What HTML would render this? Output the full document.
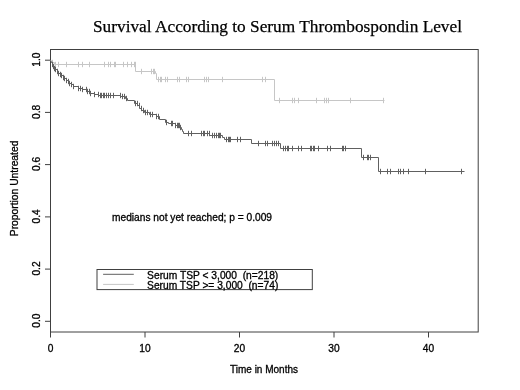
<!DOCTYPE html>
<html><head><meta charset="utf-8"><title>Survival According to Serum Thrombospondin Level</title>
<style>html,body{margin:0;padding:0;background:#fff;overflow:hidden}svg{display:block;filter:grayscale(1)}</style></head>
<body>
<svg width="520" height="390" viewBox="0 0 520 390">
<rect width="520" height="390" fill="#fff"/>
<text x="93" y="32" font-family="'Liberation Serif',serif" font-size="17.6" textLength="369" lengthAdjust="spacingAndGlyphs" fill="#000" stroke="#000" stroke-width="0.25">Survival According to Serum Thrombospondin Level</text>
<rect x="50.5" y="49.5" width="427.7" height="282.5" fill="none" stroke="#404040" stroke-width="1"/>
<path d="M50.5,332.0v5.5M145.0,332.0v5.5M239.5,332.0v5.5M334.0,332.0v5.5M428.5,332.0v5.5M50.5,321.3h-5.5M50.5,269.1h-5.5M50.5,216.9h-5.5M50.5,164.6h-5.5M50.5,112.4h-5.5M50.5,60.2h-5.5" stroke="#404040" stroke-width="1" fill="none"/>
<text x="50.5" y="352" text-anchor="middle" font-family="'Liberation Sans',sans-serif" font-size="10.2" fill="#000" stroke="#000" stroke-width="0.3">0</text>
<text x="145.0" y="352" text-anchor="middle" font-family="'Liberation Sans',sans-serif" font-size="10.2" fill="#000" stroke="#000" stroke-width="0.3">10</text>
<text x="239.5" y="352" text-anchor="middle" font-family="'Liberation Sans',sans-serif" font-size="10.2" fill="#000" stroke="#000" stroke-width="0.3">20</text>
<text x="334.0" y="352" text-anchor="middle" font-family="'Liberation Sans',sans-serif" font-size="10.2" fill="#000" stroke="#000" stroke-width="0.3">30</text>
<text x="428.5" y="352" text-anchor="middle" font-family="'Liberation Sans',sans-serif" font-size="10.2" fill="#000" stroke="#000" stroke-width="0.3">40</text>
<text transform="translate(39.7,320.7) rotate(-90)" text-anchor="middle" font-family="'Liberation Sans',sans-serif" font-size="10.2" fill="#000" stroke="#000" stroke-width="0.3">0.0</text>
<text transform="translate(39.7,268.5) rotate(-90)" text-anchor="middle" font-family="'Liberation Sans',sans-serif" font-size="10.2" fill="#000" stroke="#000" stroke-width="0.3">0.2</text>
<text transform="translate(39.7,216.3) rotate(-90)" text-anchor="middle" font-family="'Liberation Sans',sans-serif" font-size="10.2" fill="#000" stroke="#000" stroke-width="0.3">0.4</text>
<text transform="translate(39.7,164.0) rotate(-90)" text-anchor="middle" font-family="'Liberation Sans',sans-serif" font-size="10.2" fill="#000" stroke="#000" stroke-width="0.3">0.6</text>
<text transform="translate(39.7,111.8) rotate(-90)" text-anchor="middle" font-family="'Liberation Sans',sans-serif" font-size="10.2" fill="#000" stroke="#000" stroke-width="0.3">0.8</text>
<text transform="translate(39.7,59.6) rotate(-90)" text-anchor="middle" font-family="'Liberation Sans',sans-serif" font-size="10.2" fill="#000" stroke="#000" stroke-width="0.3">1.0</text>
<text x="264" y="372.5" text-anchor="middle" textLength="68" lengthAdjust="spacingAndGlyphs" font-family="'Liberation Sans',sans-serif" font-size="10.2" fill="#000" stroke="#000" stroke-width="0.3">Time in Months</text>
<text transform="translate(18.4,188.4) rotate(-90)" text-anchor="middle" textLength="95.6" lengthAdjust="spacingAndGlyphs" font-family="'Liberation Sans',sans-serif" font-size="10.2" fill="#000" stroke="#000" stroke-width="0.3">Proportion Untreated</text>
<path d="M50.5,60.5 L51.5,60.5 L51.5,62.5 L54.5,62.5 L54.5,64.5 L135.5,64.5 L135.5,71.5 L155.5,71.5 L155.5,73.5 L156.5,73.5 L156.5,79.5 L274.5,79.5 L274.5,100.5 L384.5,100.5M52.5,59.8v5.4M55.5,61.8v5.4M58.5,61.8v5.4M66.5,61.8v5.4M78.5,61.8v5.4M82.5,61.8v5.4M89.5,61.8v5.4M104.5,61.8v5.4M108.5,61.8v5.4M110.5,61.8v5.4M114.5,61.8v5.4M115.5,61.8v5.4M123.5,61.8v5.4M127.5,61.8v5.4M131.5,61.8v5.4M134.5,61.8v5.4M135.5,61.8v5.4M141.5,68.8v5.4M151.5,68.8v5.4M153.5,68.8v5.4M154.5,68.8v5.4M158.5,76.8v5.4M160.5,76.8v5.4M161.5,76.8v5.4M165.5,76.8v5.4M167.5,76.8v5.4M177.5,76.8v5.4M179.5,76.8v5.4M186.5,76.8v5.4M188.5,76.8v5.4M204.5,76.8v5.4M206.5,76.8v5.4M208.5,76.8v5.4M222.5,76.8v5.4M262.5,76.8v5.4M265.5,76.8v5.4M279.5,97.8v5.4M292.5,97.8v5.4M294.5,97.8v5.4M298.5,97.8v5.4M316.5,97.8v5.4M324.5,97.8v5.4M326.5,97.8v5.4M328.5,97.8v5.4M350.5,97.8v5.4M383.5,97.8v5.4" stroke="#c6c6c6" stroke-width="1" fill="none"/>
<path d="M50.5,60.5 L51.5,62.5 L52.5,62.5 L52.5,64.5 L53.5,64.5 L53.5,66.5 L54.5,66.5 L54.5,68.5 L55.5,68.5 L55.5,69.5 L57.5,69.5 L57.5,71.5 L58.5,71.5 L58.5,73.5 L60.5,73.5 L60.5,74.5 L61.5,74.5 L61.5,75.5 L63.5,75.5 L63.5,77.5 L64.5,77.5 L64.5,78.5 L66.5,78.5 L66.5,80.5 L68.5,80.5 L68.5,81.5 L69.5,81.5 L69.5,83.5 L71.5,83.5 L71.5,84.5 L73.5,84.5 L73.5,86.5 L78.5,86.5 L78.5,88.5 L82.5,88.5 L82.5,89.5 L86.5,89.5 L86.5,91.5 L89.5,91.5 L89.5,93.5 L94.5,93.5 L94.5,94.5 L98.5,94.5 L98.5,95.5 L101.5,95.5 L101.5,95.5 L120.5,95.5 L120.5,96.5 L125.5,96.5 L125.5,98.5 L127.5,98.5 L127.5,100.5 L134.5,100.5 L134.5,103.5 L137.5,103.5 L137.5,105.5 L139.5,105.5 L139.5,108.5 L141.5,108.5 L141.5,110.5 L144.5,110.5 L144.5,112.5 L149.5,112.5 L149.5,114.5 L156.5,114.5 L156.5,116.5 L159.5,116.5 L159.5,119.5 L165.5,119.5 L165.5,122.5 L168.5,122.5 L168.5,123.5 L175.5,123.5 L175.5,125.5 L179.5,125.5 L179.5,127.5 L181.5,127.5 L181.5,129.5 L182.5,129.5 L182.5,131.5 L183.5,131.5 L183.5,133.5 L209.5,133.5 L209.5,135.5 L222.5,135.5 L222.5,137.5 L224.5,137.5 L224.5,139.5 L251.5,139.5 L251.5,143.5 L280.5,143.5 L280.5,148.5 L361.5,148.5 L361.5,157.5 L378.5,157.5 L378.5,171.5 L464.5,171.5M73.5,83.8v5.4M78.5,85.8v5.4M80.5,85.8v5.4M82.5,86.8v5.4M86.5,86.8v5.4M87.5,88.8v5.4M89.5,88.8v5.4M90.5,90.8v5.4M94.5,91.8v5.4M98.5,91.8v5.4M100.5,92.8v5.4M101.5,92.8v5.4M103.5,92.8v5.4M104.5,92.8v5.4M106.5,92.8v5.4M108.5,92.8v5.4M110.5,92.8v5.4M113.5,92.8v5.4M120.5,92.8v5.4M122.5,93.8v5.4M124.5,93.8v5.4M126.5,95.8v5.4M135.5,100.8v5.4M137.5,100.8v5.4M139.5,102.8v5.4M141.5,105.8v5.4M143.5,107.8v5.4M145.5,109.8v5.4M147.5,109.8v5.4M150.5,111.8v5.4M152.5,111.8v5.4M156.5,113.8v5.4M158.5,113.8v5.4M166.5,119.8v5.4M171.5,120.8v5.4M172.5,120.8v5.4M175.5,122.8v5.4M177.5,122.8v5.4M178.5,122.8v5.4M179.5,122.8v5.4M180.5,124.8v5.4M188.5,130.8v5.4M191.5,130.8v5.4M201.5,130.8v5.4M203.5,130.8v5.4M204.5,130.8v5.4M207.5,130.8v5.4M209.5,130.8v5.4M212.5,132.8v5.4M214.5,132.8v5.4M216.5,132.8v5.4M218.5,132.8v5.4M219.5,132.8v5.4M220.5,132.8v5.4M226.5,136.8v5.4M228.5,136.8v5.4M229.5,136.8v5.4M230.5,136.8v5.4M237.5,136.8v5.4M240.5,136.8v5.4M258.5,140.8v5.4M265.5,140.8v5.4M267.5,140.8v5.4M272.5,140.8v5.4M274.5,140.8v5.4M276.5,140.8v5.4M278.5,140.8v5.4M283.5,145.8v5.4M285.5,145.8v5.4M287.5,145.8v5.4M288.5,145.8v5.4M292.5,145.8v5.4M298.5,145.8v5.4M301.5,145.8v5.4M310.5,145.8v5.4M311.5,145.8v5.4M313.5,145.8v5.4M314.5,145.8v5.4M318.5,145.8v5.4M327.5,145.8v5.4M330.5,145.8v5.4M342.5,145.8v5.4M343.5,145.8v5.4M345.5,145.8v5.4M363.5,154.8v5.4M367.5,154.8v5.4M368.5,154.8v5.4M370.5,154.8v5.4M380.5,168.8v5.4M387.5,168.8v5.4M390.5,168.8v5.4M398.5,168.8v5.4M400.5,168.8v5.4M403.5,168.8v5.4M408.5,168.8v5.4M425.5,168.8v5.4M461.5,168.8v5.4M52.5,61.8v5.4M53.5,63.8v5.4M54.5,65.8v5.4M55.5,66.8v5.4M57.5,68.8v5.4M58.5,70.8v5.4M60.5,71.8v5.4M61.5,72.8v5.4M63.5,74.8v5.4M64.5,75.8v5.4M66.5,77.8v5.4M68.5,78.8v5.4M69.5,80.8v5.4M71.5,81.8v5.4" stroke="#606060" stroke-width="1" fill="none"/>
<text x="112" y="221.2" textLength="160" lengthAdjust="spacingAndGlyphs" font-family="'Liberation Sans',sans-serif" font-size="10.2" fill="#000" stroke="#000" stroke-width="0.3">medians not yet reached; p = 0.009</text>
<rect x="97" y="269.5" width="215.3" height="20.1" fill="none" stroke="#404040" stroke-width="1"/>
<path d="M103.1,274.3H133.8" stroke="#606060" stroke-width="1"/>
<path d="M103.1,284.4H133.8" stroke="#c6c6c6" stroke-width="1"/>
<text x="147.1" y="278.7" textLength="131.2" lengthAdjust="spacingAndGlyphs" xml:space="preserve" style="white-space:pre" font-family="'Liberation Sans',sans-serif" font-size="10.2" fill="#000" stroke="#000" stroke-width="0.3">Serum TSP &lt; 3,000  (n=218)</text>
<text x="147.1" y="288.9" textLength="131.2" lengthAdjust="spacingAndGlyphs" xml:space="preserve" style="white-space:pre" font-family="'Liberation Sans',sans-serif" font-size="10.2" fill="#000" stroke="#000" stroke-width="0.3">Serum TSP &gt;= 3,000  (n=74)</text>
</svg>
</body></html>
